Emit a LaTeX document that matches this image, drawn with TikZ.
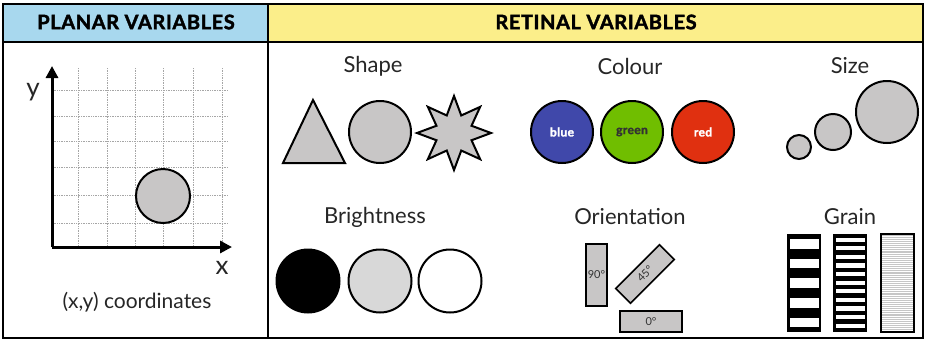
\documentclass[tikz,border=0pt]{standalone}
\usepackage{fontspec}
\setmainfont{Lato}
\newfontfamily\heavyfont{Lato}[LetterSpace=3, BoldFeatures={FakeBold=2}]
\usetikzlibrary{positioning}
\usetikzlibrary{arrows.meta}
\usetikzlibrary{shapes.geometric}
\definecolor{planarblue}{RGB}{168,216,238}
\definecolor{retinalyellow}{RGB}{251,238,138}
\definecolor{shapegray}{RGB}{200,198,198}
\definecolor{palegray}{RGB}{216,216,216}
\definecolor{discblue}{RGB}{64,72,170}
\definecolor{discgreen}{RGB}{112,190,0}
\definecolor{discred}{RGB}{224,48,16}

\begin{document}
\begin{tikzpicture}[x=1pt, y=-1pt,
    varlabel/.style={font=\fontsize{22}{22}\selectfont, text=black!85},
    header/.style={font=\fontsize{20}{20}\selectfont\heavyfont\bfseries},
    grayshape/.style={draw=black, line width=2pt, fill=shapegray},
    disc/.style={circle, inner sep=0pt, grayshape},
    disctext/.style={font=\fontsize{12}{12}\selectfont\heavyfont\bfseries},
    bar/.style={rectangle, inner sep=0pt, grayshape, line width=1.6pt,
        minimum width=62pt, minimum height=21pt, font=\fontsize{11}{11}\selectfont, text=black!80}]
    \useasboundingbox (0,0) rectangle (926,341);

    % header row
    \fill[planarblue] (3,4) rectangle (268,42);
    \fill[retinalyellow] (268,4) rectangle (923,42);
    \node[header] (planar) at (136,22) {PLANAR VARIABLES};
    \node[header] (retinal) at (596,22) {RETINAL VARIABLES};

    % frame
    \draw[line width=2.5pt] (3,4) rectangle (923,338);
    \draw[line width=2pt] (3,42) -- (923,42);
    \draw[line width=2pt] (268,4) -- (268,338);

    % planar: grid and axes
    \foreach \gx in {78,107,135,163,193,222}
        \draw[gray!70, densely dotted, line width=0.7pt] (\gx,68) -- (\gx,247);
    \foreach \gy in {90,116,141,167,195,223}
        \draw[gray!70, densely dotted, line width=0.7pt] (52,\gy) -- (228,\gy);
    \coordinate (origin) at (52,247);
    \coordinate (xend) at (232,247);
    \coordinate (yend) at (52,66);
    \draw[line width=3pt, -{Triangle[length=12pt, width=12pt]}] (origin) -- (xend);
    \draw[line width=3pt, -{Triangle[length=12pt, width=12pt]}] (origin) -- (yend);
    \node[varlabel, font=\fontsize{26}{26}\selectfont] (ylab) at (33,92) {y};
    \node[varlabel, font=\fontsize{26}{26}\selectfont] (xlab) at (222,268) {x};
    \node[disc, minimum size=54pt] (point) at (163,196) {};
    \node[varlabel, font=\fontsize{21}{21}\selectfont] (coords) at (137,302) {(x,y) coordinates};

    % shape
    \node[varlabel] (shape) at (373,66) {Shape};
    \draw[grayshape, line join=miter] (283,163) -- (313,100) -- (345,163) -- cycle;
    \node[disc, minimum size=62pt] (round) at (380,132) {};
    \node[star, star points=8, star point ratio=1.95, inner sep=0pt, minimum size=74pt,
        grayshape] (spiky) at (454,133) {};

    % colour
    \node[varlabel] (colour) at (630,66) {Colour};
    \node[disc, fill=discblue, minimum size=62pt, text=white, disctext] (blue) at (562,132) {blue};
    \node[disc, fill=discgreen, minimum size=62pt, text=black!80, disctext] (green) at (632,132) {green};
    \node[disc, fill=discred, minimum size=62pt, text=white, disctext] (red) at (703,132) {red};

    % size
    \node[varlabel] (size) at (850,66) {Size};
    \node[disc, minimum size=24pt] (small) at (799,147) {};
    \node[disc, minimum size=36pt] (medium) at (833,132) {};
    \node[disc, minimum size=62pt] (large) at (887,112) {};

    % brightness
    \node[varlabel] (brightness) at (375,217) {Brightness};
    \node[disc, fill=black, minimum size=63pt] (dark) at (308,281) {};
    \node[disc, fill=palegray, minimum size=63pt] (mid) at (380,281) {};
    \node[disc, fill=white, minimum size=63pt] (light) at (450,281) {};

    % orientation
    \node[varlabel] (orientation) at (630,217) {Orientation};
    \node[bar, minimum width=21pt, minimum height=62pt] (upright) at (596.5,275) {90°};
    \node[bar, rotate=45] (tilted) at (645,274) {45°};
    \node[bar] (flat) at (651,321.5) {0°};

    % grain
    \node[varlabel] (grain) at (850,217) {Grain};
    \fill[black] (787,234) rectangle (821,332);
    \foreach \k in {0,...,4}
        \fill[white] (789.5,239+19.7*\k) rectangle (818.5,248.5+19.7*\k);
    \fill[black] (833,234) rectangle (867,332);
    \foreach \k in {0,...,10}
        \fill[white] (835.5,237.5+8.6*\k) rectangle (864.5,241.8+8.6*\k);
    \fill[gray!45] (881,234) rectangle (914,332);
    \foreach \k in {0,...,45}
        \draw[white, line width=0.6pt] (881,236+2.1*\k) -- (914,236+2.1*\k);
    \draw[line width=2pt] (881,234) rectangle (914,332);
\end{tikzpicture}
\end{document}
